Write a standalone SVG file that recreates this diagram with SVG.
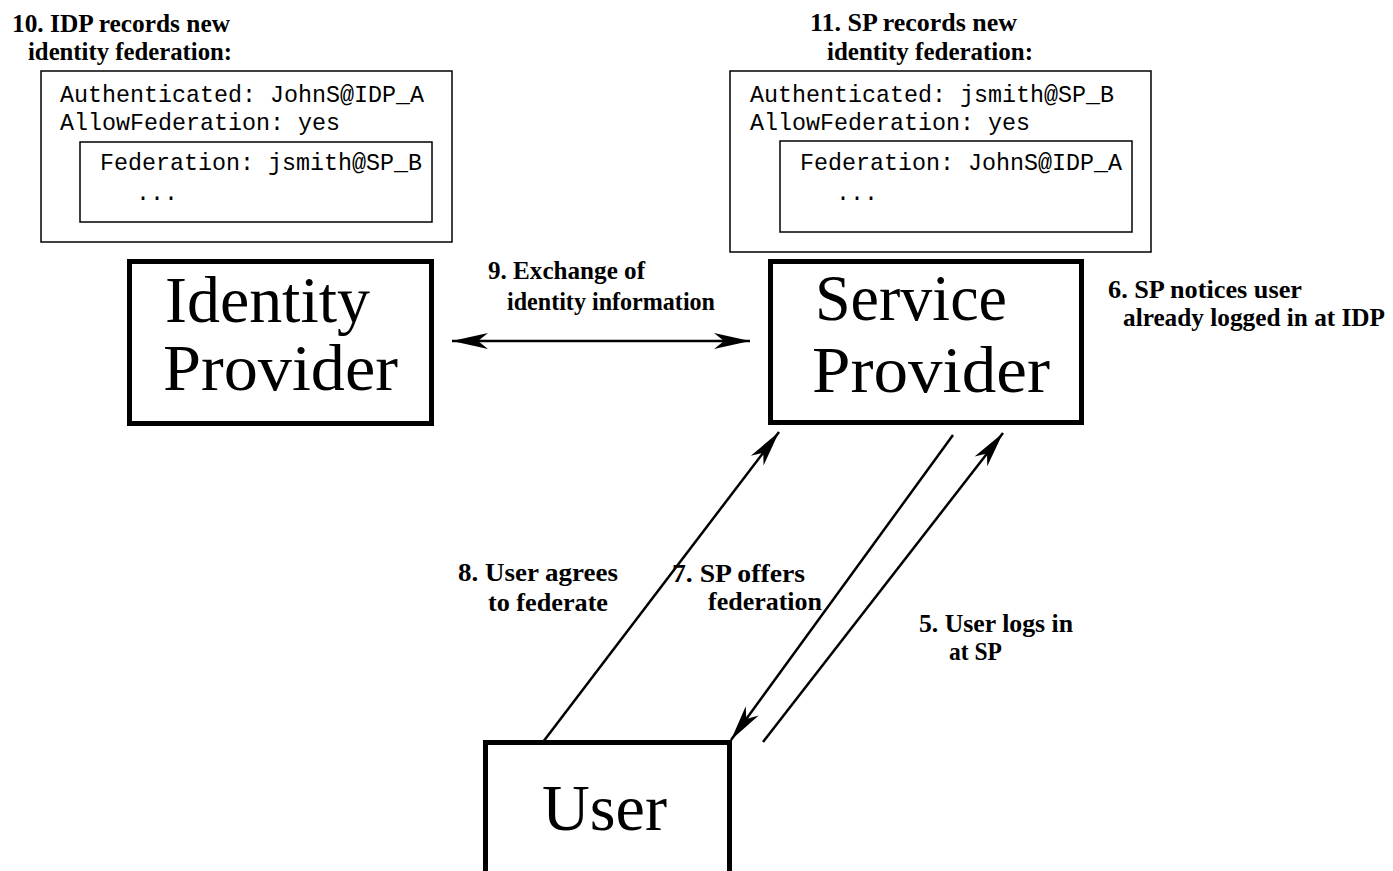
<svg xmlns="http://www.w3.org/2000/svg" width="1393" height="871" viewBox="0 0 1393 871">
<style>
.lbl{font-family:"Liberation Serif","Times New Roman",serif;font-weight:bold;font-size:25px;fill:#000}
.big{font-family:"Liberation Serif","Times New Roman",serif;font-size:66px;fill:#000}
.mono{font-family:"Liberation Mono","Courier New",monospace;font-size:24px;fill:#000}
.node{fill:#fff;stroke:#000;stroke-width:5}
.rec{fill:none;stroke:#000;stroke-width:1.5}
.conn{fill:none;stroke:#000;stroke-width:2.5}
</style>
<defs>
<marker id="ah" markerUnits="userSpaceOnUse" markerWidth="44" markerHeight="24" viewBox="-40 -12 44 24" refX="0" refY="0" orient="auto-start-reverse">
<path d="M0,0 L-36,-8 L-26,0 L-36,8 Z" fill="#000"/>
</marker>
</defs>
<rect width="1393" height="871" fill="#fff"/>

<g id="idp-record">
<text class="lbl" x="12" y="32" textLength="218" lengthAdjust="spacingAndGlyphs">10. IDP records new</text>
<text class="lbl" x="28" y="60" textLength="204" lengthAdjust="spacingAndGlyphs">identity federation:</text>
<rect class="rec" x="41" y="71" width="411" height="171"/>
<text class="mono" x="60" y="102" textLength="364" lengthAdjust="spacingAndGlyphs">Authenticated: JohnS@IDP_A</text>
<text class="mono" x="60" y="130" textLength="280" lengthAdjust="spacingAndGlyphs">AllowFederation: yes</text>
<rect class="rec" x="80" y="142" width="352" height="80"/>
<text class="mono" x="100" y="170" textLength="322" lengthAdjust="spacingAndGlyphs">Federation: jsmith@SP_B</text>
<text class="mono" x="136" y="200" textLength="42" lengthAdjust="spacingAndGlyphs">...</text>
</g>

<g id="sp-record">
<text class="lbl" x="810" y="31" textLength="207" lengthAdjust="spacingAndGlyphs">11. SP records new</text>
<text class="lbl" x="827" y="60" textLength="206" lengthAdjust="spacingAndGlyphs">identity federation:</text>
<rect class="rec" x="730" y="71" width="421" height="181"/>
<text class="mono" x="750" y="102" textLength="364" lengthAdjust="spacingAndGlyphs">Authenticated: jsmith@SP_B</text>
<text class="mono" x="750" y="130" textLength="280" lengthAdjust="spacingAndGlyphs">AllowFederation: yes</text>
<rect class="rec" x="780" y="141" width="352" height="91"/>
<text class="mono" x="800" y="170" textLength="322" lengthAdjust="spacingAndGlyphs">Federation: JohnS@IDP_A</text>
<text class="mono" x="836" y="200" textLength="42" lengthAdjust="spacingAndGlyphs">...</text>
</g>

<g id="identity-provider">
<rect class="node" x="129.5" y="261.5" width="302" height="162"/>
<text class="big" x="165" y="322" textLength="205" lengthAdjust="spacingAndGlyphs">Identity</text>
<text class="big" x="163" y="390" textLength="235" lengthAdjust="spacingAndGlyphs">Provider</text>
</g>

<g id="service-provider">
<rect class="node" x="770.5" y="261.5" width="311" height="161"/>
<text class="big" x="815" y="320" textLength="192" lengthAdjust="spacingAndGlyphs">Service</text>
<text class="big" x="812" y="392" textLength="238" lengthAdjust="spacingAndGlyphs">Provider</text>
</g>

<g id="user">
<rect class="node" x="485.5" y="742.5" width="244" height="140"/>
<text class="big" x="542" y="830" textLength="125" lengthAdjust="spacingAndGlyphs">User</text>
</g>

<g id="note-6">
<text class="lbl" x="1108" y="298" textLength="194" lengthAdjust="spacingAndGlyphs">6. SP notices user</text>
<text class="lbl" x="1123" y="326" textLength="262" lengthAdjust="spacingAndGlyphs">already logged in at IDP</text>
</g>

<g id="connectors">
<line class="conn" x1="452" y1="341" x2="750" y2="341" stroke-width="3" marker-start="url(#ah)" marker-end="url(#ah)"/>
<line class="conn" x1="543" y1="742" x2="779" y2="432" marker-end="url(#ah)"/>
<line class="conn" x1="953" y1="435" x2="731" y2="740" marker-end="url(#ah)"/>
<line class="conn" x1="763" y1="742" x2="1003" y2="433" marker-end="url(#ah)"/>
<text class="lbl" x="488" y="279" textLength="157" lengthAdjust="spacingAndGlyphs">9. Exchange of</text>
<text class="lbl" x="507" y="310" textLength="208" lengthAdjust="spacingAndGlyphs">identity information</text>
<text class="lbl" x="458" y="581" textLength="160" lengthAdjust="spacingAndGlyphs">8. User agrees</text>
<text class="lbl" x="488" y="611" textLength="120" lengthAdjust="spacingAndGlyphs">to federate</text>
<text class="lbl" x="672" y="582" textLength="133" lengthAdjust="spacingAndGlyphs">7. SP offers</text>
<text class="lbl" x="708" y="610" textLength="114" lengthAdjust="spacingAndGlyphs">federation</text>
<text class="lbl" x="919" y="632" textLength="154" lengthAdjust="spacingAndGlyphs">5. User logs in</text>
<text class="lbl" x="949" y="660" textLength="53" lengthAdjust="spacingAndGlyphs">at SP</text>
</g>
</svg>
